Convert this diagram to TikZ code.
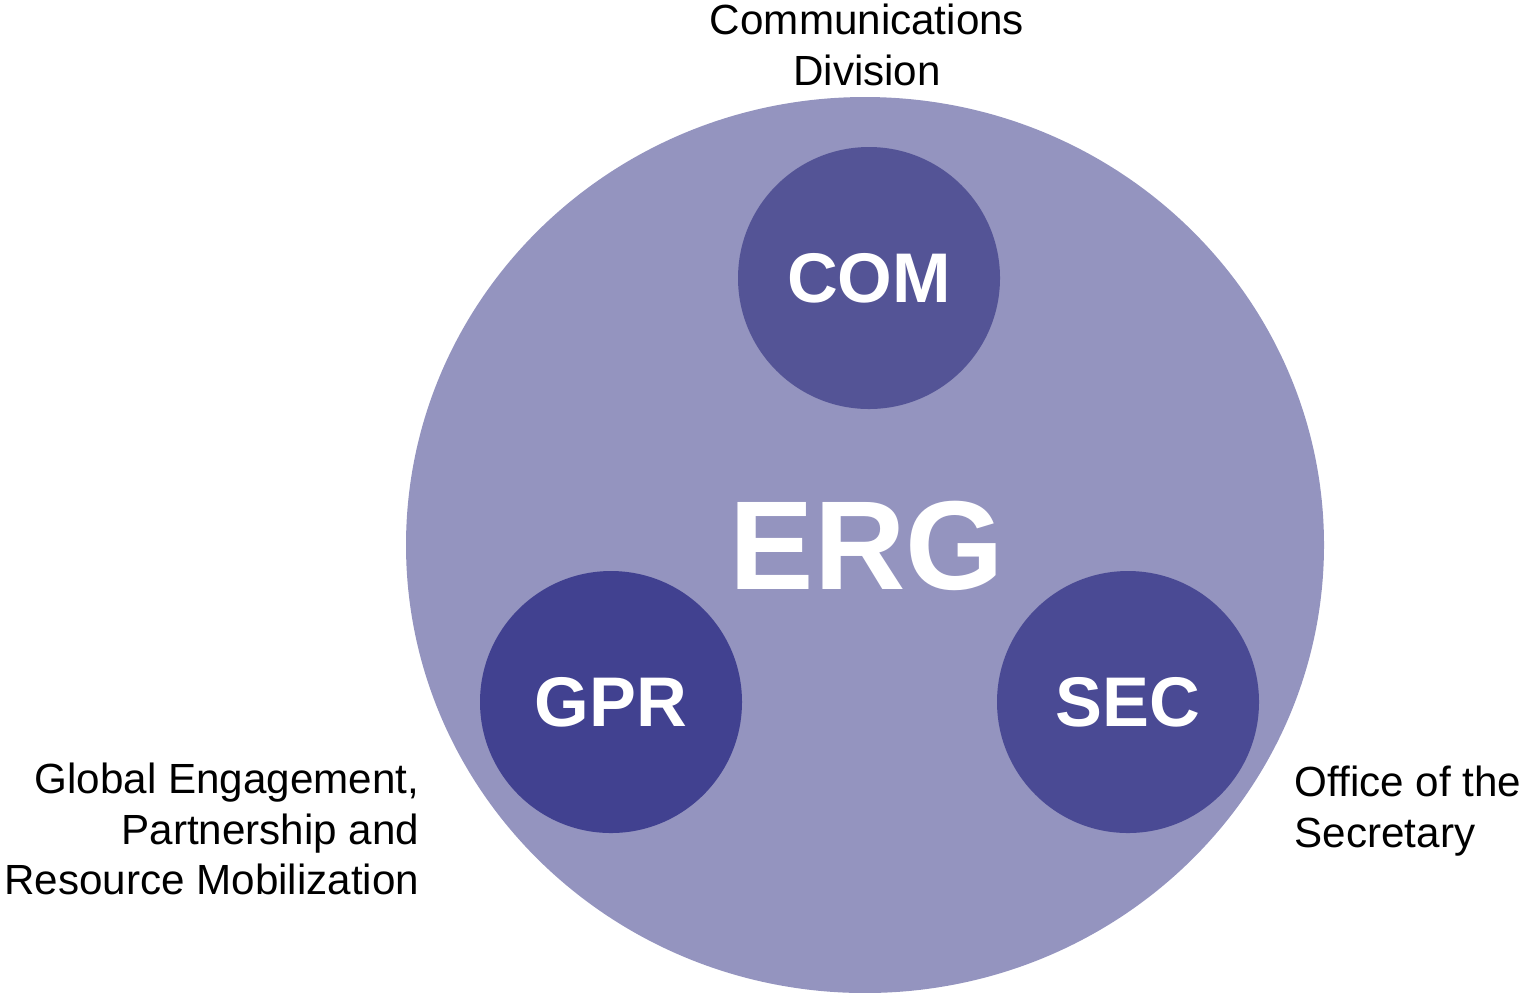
\documentclass[tikz,border=0pt]{standalone}
\usepackage{fontspec}
\setmainfont{Liberation Sans}
\usetikzlibrary{positioning}
\definecolor{ergfill}{RGB}{148,148,191}
\definecolor{comfill}{RGB}{84,84,150}
\definecolor{gprfill}{RGB}{65,65,144}
\definecolor{secfill}{RGB}{74,74,148}

\begin{document}
\begin{tikzpicture}[every node/.style={font=\fontsize{12}{14.4}\selectfont},
  unit/.style={circle,minimum size=2.62cm,inner sep=0pt,text=white,font=\fontsize{20}{24}\selectfont\bfseries}]
  \useasboundingbox (0,0) rectangle (15.22,-9.92);
  \fill[ergfill] (8.65,-5.45) ellipse (4.59 and 4.48);
  \node (erg) at (8.67,-5.46) {\fontsize{36}{40}\selectfont\bfseries\color{white}ERG};
  \node[unit,fill=comfill] (com) at (8.69,-2.78) {COM};
  \node[unit,fill=gprfill] (gpr) at (6.11,-7.02) {GPR};
  \node[unit,fill=secfill] (sec) at (11.28,-7.02) {SEC};
  \node[align=center,inner sep=0pt] (comlbl) at (8.67,-0.45) {Communications\\Division};
  \node[anchor=east,align=right,inner sep=0pt] (gprlbl) at (4.20,-8.29) {Global Engagement,\\Partnership and\\Resource Mobilization};
  \node[anchor=west,align=left,inner sep=0pt] (seclbl) at (12.94,-8.11) {Office of the\\Secretary};
\end{tikzpicture}
\end{document}
